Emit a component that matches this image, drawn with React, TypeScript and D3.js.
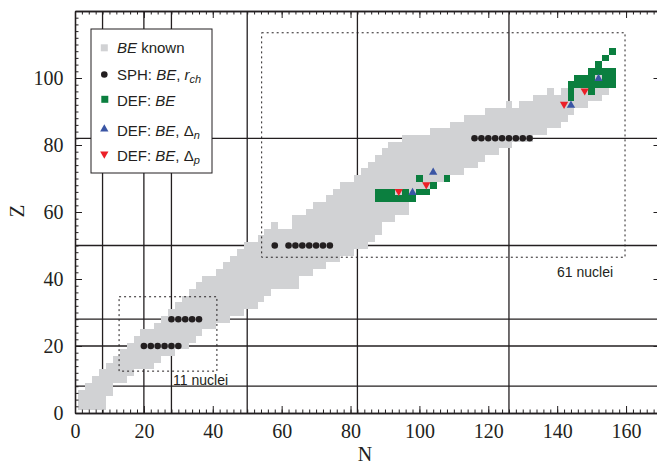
import { useEffect, useRef } from 'react';
import * as d3 from 'd3';

// Even-even nuclei with known binding energy: one row per Z, from nMin to nMax
const knownZ = [2, 4, 6, 8, 10, 12, 14, 16, 18, 20, 22, 24, 26, 28, 30, 32, 34, 36, 38, 40,
  42, 44, 46, 48, 50, 52, 54, 56, 58, 60, 62, 64, 66, 68, 70, 72, 74, 76, 78, 80,
  82, 84, 86, 88, 90, 92, 94, 96, 98, 100, 102, 104, 106, 108];
const knownNMin = [2, 2, 2, 4, 6, 8, 10, 12, 14, 16, 18, 20, 24, 26, 28, 30, 32, 34, 36, 38,
  42, 44, 46, 48, 50, 54, 56, 58, 64, 68, 70, 74, 76, 78, 82, 84, 86, 88, 90, 92,
  96, 104, 110, 114, 120, 126, 134, 138, 144, 146, 150, 152, 154, 156];
const knownNMax = [8, 8, 10, 10, 14, 16, 22, 24, 28, 32, 34, 36, 40, 44, 48, 52, 54, 56, 64, 64,
  68, 72, 76, 80, 84, 86, 88, 88, 92, 96, 96, 98, 102, 104, 108, 112, 116, 118, 122, 126,
  132, 136, 140, 142, 144, 148, 152, 154, 156, 156, 156, 152, 154, 156];
// holes inside those rows, [N, Z]
const knownGaps: [number, number][] = [[60, 56], [62, 56], [128, 92], [140, 96]];

// [N, Z] of the fitted nuclei
const sphNuclei: [number, number][] = [
  [20, 20], [22, 20], [24, 20], [26, 20], [28, 20], [30, 20],
  [28, 28], [30, 28], [32, 28], [34, 28], [36, 28],
  [58, 50], [62, 50], [64, 50], [66, 50], [68, 50], [70, 50], [72, 50], [74, 50],
  [116, 82], [118, 82], [120, 82], [122, 82], [124, 82], [126, 82], [128, 82], [130, 82], [132, 82],
];
const defNuclei: [number, number][] = [
  [88, 64], [90, 64], [92, 64], [94, 64], [96, 64], [98, 64],
  [88, 66], [90, 66], [92, 66], [96, 66], [100, 66], [102, 66],
  [104, 68], [100, 70], [108, 70],
  [144, 94], [144, 96], [150, 96],
  [144, 98], [146, 98], [148, 98], [150, 98], [152, 98], [154, 98], [156, 98],
  [146, 100], [148, 100], [150, 100], [154, 100], [156, 100],
  [150, 102], [152, 102], [154, 102], [156, 102],
  [152, 104], [154, 106], [156, 108],
];
const deltaNNuclei: [number, number][] = [[98, 66], [104, 72], [144, 92], [152, 100]];
const deltaPNuclei: [number, number][] = [[94, 66], [102, 68], [142, 92], [148, 96]];

// Shell closures
const magicN = [8, 20, 28, 50, 82, 126];
const magicZ = [8, 20, 28, 50, 82];

const xTicks = [0, 20, 40, 60, 80, 100, 120, 140, 160];
const yTicks = [0, 20, 40, 60, 80, 100];

// Dotted boxes around the two fit regions: [nLo, nHi, zLo, zHi]
const boxLight = [12.8, 41.2, 12.5, 34.7];
const boxHeavy = [54.2, 159.7, 46.5, 113.5];
const boxLabels = ['11 nuclei', '61 nuclei'];

const GRAY = '#d1d2d4';
const GREEN = '#0b7f3f';
const BLUE = '#3a55a4';
const RED = '#ec1f28';
const INK = '#231f20';
const SERIF = '"Liberation Serif", "Times New Roman", serif';
const SANS = '"Liberation Sans", Arial, Helvetica, sans-serif';

const App = () => {
  const ref = useRef<SVGSVGElement>(null);

  useEffect(() => {
    const svg = d3.select(ref.current);
    svg.selectAll('*').remove();

    const x = d3.scaleLinear().domain([0, 170]).range([75, 660.5]);
    const y = d3.scaleLinear().domain([0, 120]).range([413, 11]);

    // magic number lines
    const grid = svg.append('g').attr('stroke', INK).attr('stroke-width', 1.3);
    grid.selectAll('line.n').data(magicN).join('line')
      .attr('x1', (d) => x(d)).attr('x2', (d) => x(d))
      .attr('y1', y(0)).attr('y2', y(120));
    grid.selectAll('line.z').data(magicZ).join('line')
      .attr('x1', x(0)).attr('x2', x(170))
      .attr('y1', (d) => y(d)).attr('y2', (d) => y(d));

    // known nuclei, cell by cell
    const gapKey = new Set(knownGaps.map((d) => d.join(',')));
    const known: [number, number][] = [];
    knownZ.forEach((z, i) => {
      d3.range(knownNMin[i], knownNMax[i] + 1, 2).forEach((n) => {
        if (!gapKey.has(`${n},${z}`)) known.push([n, z]);
      });
    });
    const cells = (g: any, data: [number, number][], fill: string) =>
      g.selectAll('rect').data(data).join('rect')
        .attr('x', (d: number[]) => x(d[0] - 1))
        .attr('width', (d: number[]) => x(d[0] + 1) - x(d[0] - 1))
        .attr('y', (d: number[]) => y(d[1] + 1))
        .attr('height', (d: number[]) => y(d[1] - 1) - y(d[1] + 1))
        .attr('fill', fill)
        .attr('shape-rendering', 'crispEdges');
    cells(svg.append('g'), known, GRAY);
    cells(svg.append('g'), defNuclei, GREEN);

    // spherical
    svg.append('g').selectAll('circle').data(sphNuclei).join('circle')
      .attr('cx', (d) => x(d[0])).attr('cy', (d) => y(d[1]))
      .attr('r', 3.3).attr('fill', INK);

    const tri = d3.symbol(d3.symbolTriangle, 30);
    svg.append('g').selectAll('path').data(deltaNNuclei).join('path')
      .attr('d', tri)
      .attr('transform', (d) => `translate(${x(d[0])},${y(d[1]) + 0.6})`)
      .attr('fill', BLUE);
    svg.append('g').selectAll('path').data(deltaPNuclei).join('path')
      .attr('d', tri)
      .attr('transform', (d) => `translate(${x(d[0])},${y(d[1]) - 0.6}) rotate(180)`)
      .attr('fill', RED);

    // dotted fit regions
    const boxes = [boxLight, boxHeavy];
    svg.append('g').selectAll('rect').data(boxes).join('rect')
      .attr('x', (b) => x(b[0])).attr('y', (b) => y(b[3]))
      .attr('width', (b) => x(b[1]) - x(b[0]))
      .attr('height', (b) => y(b[2]) - y(b[3]))
      .attr('fill', 'none').attr('stroke', INK).attr('stroke-width', 1)
      .attr('stroke-dasharray', '2,3');
    svg.append('g').selectAll('text').data(boxes).join('text')
      .attr('x', (b, i) => (i === 0 ? x(b[0]) + 54 : x(b[1]) - 68))
      .attr('y', (b, i) => y(b[2]) + (i === 0 ? 14 : 20))
      .attr('font-family', SANS).attr('font-size', 14).attr('fill', INK)
      .text((b, i) => boxLabels[i]);

    // axes
    const minor = d3.range(0, 171, 2);
    const minorY = d3.range(0, 121, 2);
    const styleAxis = (g: any) => {
      g.select('.domain').attr('stroke', INK).attr('stroke-width', 1.3);
      g.selectAll('.tick line').attr('stroke', INK).attr('stroke-width', 1);
      g.selectAll('text').attr('font-family', SERIF).attr('font-size', 20).attr('fill', INK);
    };
    svg.append('g').attr('transform', `translate(0,${y(0)})`)
      .call(d3.axisBottom(x).tickValues(minor).tickSize(-3.5).tickFormat(() => '').tickSizeOuter(0)).call(styleAxis);
    svg.append('g').attr('transform', `translate(0,${y(0)})`)
      .call(d3.axisBottom(x).tickValues(xTicks).tickSize(-7).tickPadding(10.5).tickSizeOuter(0)).call(styleAxis);
    svg.append('g').attr('transform', `translate(0,${y(120)})`)
      .call(d3.axisTop(x).tickValues(minor).tickSize(-3.5).tickFormat(() => '').tickSizeOuter(0)).call(styleAxis);
    svg.append('g').attr('transform', `translate(0,${y(120)})`)
      .call(d3.axisTop(x).tickValues(xTicks).tickSize(-7).tickFormat(() => '').tickSizeOuter(0)).call(styleAxis);
    svg.append('g').attr('transform', `translate(${x(0)},0)`)
      .call(d3.axisLeft(y).tickValues(minorY).tickSize(-3.5).tickFormat(() => '').tickSizeOuter(0)).call(styleAxis);
    svg.append('g').attr('transform', `translate(${x(0)},0)`)
      .call(d3.axisLeft(y).tickValues(yTicks).tickSize(-7).tickPadding(11.5).tickSizeOuter(0)).call(styleAxis);
    svg.append('g').attr('transform', `translate(${x(170)},0)`)
      .call(d3.axisRight(y).tickValues(minorY).tickSize(-3.5).tickFormat(() => '').tickSizeOuter(0)).call(styleAxis);
    svg.append('g').attr('transform', `translate(${x(170)},0)`)
      .call(d3.axisRight(y).tickValues(yTicks).tickSize(-7).tickFormat(() => '').tickSizeOuter(0)).call(styleAxis);

    // axis titles
    svg.append('text').attr('x', 365).attr('y', 461).attr('text-anchor', 'middle')
      .attr('font-family', SERIF).attr('font-size', 20).attr('fill', INK).text('N');
    svg.append('text').attr('transform', 'translate(24,211) rotate(-90)').attr('text-anchor', 'middle')
      .attr('font-family', SERIF).attr('font-size', 21).attr('fill', INK).text('Z');

    // legend
    const lg = svg.append('g').attr('font-family', SANS).attr('font-size', 15).attr('fill', INK);
    lg.append('rect').attr('x', 91).attr('y', 29).attr('width', 121).attr('height', 144)
      .attr('fill', 'white').attr('stroke', INK).attr('stroke-width', 1);
    lg.append('rect').attr('x', 100.8).attr('y', 44.3).attr('width', 7).attr('height', 7).attr('fill', GRAY);
    lg.append('circle').attr('cx', 104.3).attr('cy', 74.5).attr('r', 3.3).attr('fill', INK);
    lg.append('rect').attr('x', 101.3).attr('y', 95.8).attr('width', 7).attr('height', 7).attr('fill', GREEN);
    lg.append('path').attr('d', tri).attr('transform', 'translate(104.3,129)').attr('fill', BLUE);
    lg.append('path').attr('d', tri).attr('transform', 'translate(104.3,154) rotate(180)').attr('fill', RED);

    const t1 = lg.append('text').attr('x', 117).attr('y', 53);
    t1.append('tspan').attr('font-style', 'italic').text('BE');
    t1.append('tspan').text(' known');
    const t2 = lg.append('text').attr('x', 117).attr('y', 80);
    t2.append('tspan').text('SPH: ');
    t2.append('tspan').attr('font-style', 'italic').text('BE');
    t2.append('tspan').text(', ');
    t2.append('tspan').attr('font-style', 'italic').text('r');
    t2.append('tspan').attr('font-style', 'italic').attr('font-size', 11).attr('dy', 3).text('ch');
    const t3 = lg.append('text').attr('x', 117).attr('y', 106);
    t3.append('tspan').text('DEF: ');
    t3.append('tspan').attr('font-style', 'italic').text('BE');
    const t4 = lg.append('text').attr('x', 117).attr('y', 135.5);
    t4.append('tspan').text('DEF: ');
    t4.append('tspan').attr('font-style', 'italic').text('BE');
    t4.append('tspan').text(', Δ');
    t4.append('tspan').attr('font-style', 'italic').attr('font-size', 11).attr('dy', 3).text('n');
    const t5 = lg.append('text').attr('x', 117).attr('y', 161);
    t5.append('tspan').text('DEF: ');
    t5.append('tspan').attr('font-style', 'italic').text('BE');
    t5.append('tspan').text(', Δ');
    t5.append('tspan').attr('font-style', 'italic').attr('font-size', 11).attr('dy', 3).text('p');
  }, []);

  return (
    <svg ref={ref} width={657} height={466}
      style={{ position: 'absolute', left: 0, top: 0, background: 'white' }} />
  );
};

export default App;
